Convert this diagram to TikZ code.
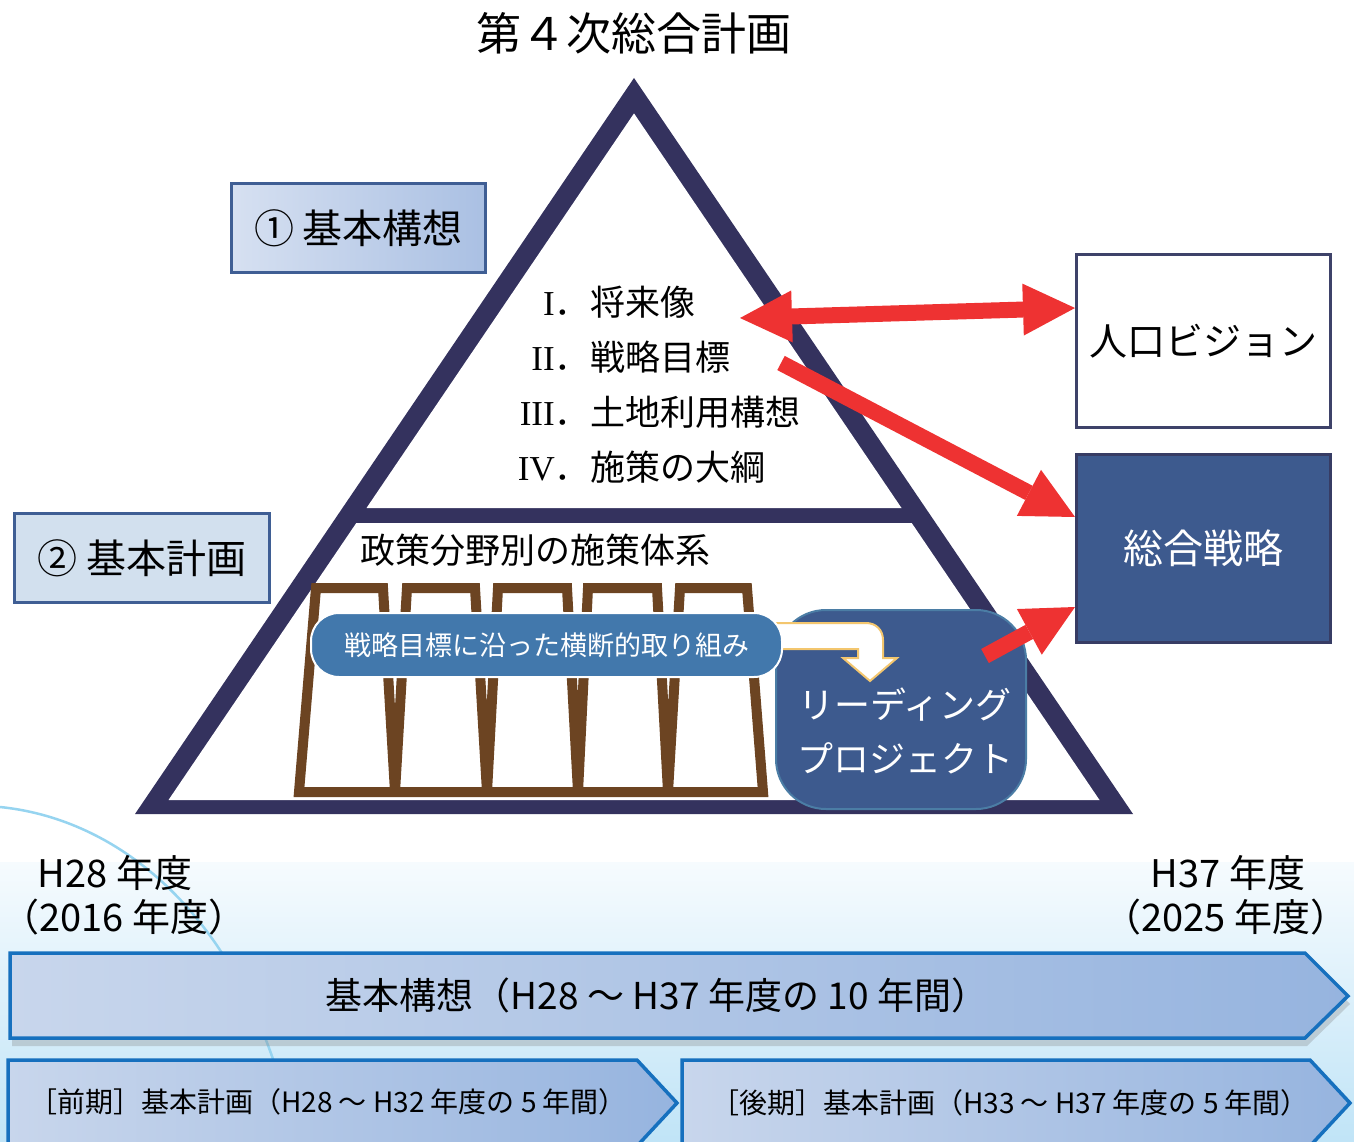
\documentclass[tikz,border=0pt]{standalone}
\usepackage{fontspec}
\usepackage{graphicx}
\setmainfont{Noto Sans CJK JP}
\newfontfamily\serifrm{Liberation Serif}
\usetikzlibrary{arrows.meta,shadows}
\definecolor{navy}{RGB}{52,50,94}
\definecolor{frameA}{RGB}{63,94,148}
\definecolor{boxAleft}{RGB}{214,224,241}
\definecolor{boxAright}{RGB}{170,192,227}
\definecolor{boxBfill}{RGB}{210,224,238}
\definecolor{pvborder}{RGB}{62,66,105}
\definecolor{ssfill}{RGB}{61,90,142}
\definecolor{ssborder}{RGB}{55,60,100}
\definecolor{pillblue}{RGB}{66,120,172}
\definecolor{lpborder}{RGB}{75,125,165}
\definecolor{arrowyellow}{RGB}{243,198,110}
\definecolor{redar}{RGB}{238,50,50}
\definecolor{brownp}{RGB}{108,68,34}
\definecolor{bannerline}{RGB}{22,112,190}
\definecolor{bannerleft}{RGB}{200,214,236}
\definecolor{bannerright}{RGB}{150,180,223}
\definecolor{bgtop}{RGB}{246,251,254}
\definecolor{bgbottom}{RGB}{192,228,247}
\definecolor{arccol}{RGB}{150,212,240}
\newcommand\setfs[2]{\fontsize{#1}{#2}\selectfont}
\tikzset{
  lbl/.style={inner sep=0pt, text=black},
  redarrow/.style={draw=redar, line width=16pt,
    -{Triangle[length=52pt,width=52pt,line width=0pt]}},
  banner/.style={draw=bannerline, line width=3.5pt, left color=bannerleft, right color=bannerright},
  sidebox/.style={line width=3pt, inner sep=0pt},
}
\begin{document}
\begin{tikzpicture}[x=1pt,y=-1pt]
\useasboundingbox (0,0) rectangle (1354,1142);
\clip (0,0) rectangle (1354,1142);
\fill[white] (0,0) rectangle (1354,1142);
% bottom background gradient
\fill[top color=bgtop, bottom color=bgbottom] (0,862) rectangle (1354,1142);
\draw[arccol, line width=2.5pt] (0,807) .. controls (110,818) and (220,900) .. (275,1065);

% title
\node[lbl, font=\setfs{45}{45}] (title) at (634,33) {第４次総合計画};

% pyramid
\fill[navy] (634,78) -- (135,814) -- (1133,814) -- cycle;
\fill[white] (634,113.4) -- (366.5,508) -- (901.5,508) -- cycle;
\fill[white] (356.3,523) -- (911.7,523) -- (1099.5,800) -- (168.5,800) -- cycle;

% left boxes
\node[sidebox, draw=frameA, left color=boxAleft, right color=boxAright,
      minimum width=254pt, minimum height=89pt, font=\setfs{40}{40}] (kihon) at (358.5,228) {① 基本構想};
\node[sidebox, draw=frameA, fill=boxBfill,
      minimum width=255pt, minimum height=89pt, font=\setfs{40}{40}] (keikaku) at (142,558) {② 基本計画};

% right boxes
\node[sidebox, draw=pvborder, fill=white,
      minimum width=254pt, minimum height=173pt, font=\setfs{38}{38}] (pv) at (1203.5,341) {人口ビジョン};
\node[sidebox, draw=ssborder, fill=ssfill, text=white,
      minimum width=254pt, minimum height=188pt, font=\setfs{40}{40}] (ss) at (1203.5,548.5) {総合戦略};

% list in pyramid
\node[lbl, anchor=base east, font=\setfs{35}{35}] (n1) at (590,315) {{\serifrm I}．};
\node[lbl, anchor=base west, font=\setfs{35}{35}] (t1) at (590,315) {将来像};
\node[lbl, anchor=base east, font=\setfs{35}{35}] (n2) at (590,370) {{\serifrm II}．};
\node[lbl, anchor=base west, font=\setfs{35}{35}] (t2) at (590,370) {戦略目標};
\node[lbl, anchor=base east, font=\setfs{35}{35}] (n3) at (590,425) {{\serifrm III}．};
\node[lbl, anchor=base west, font=\setfs{35}{35}] (t3) at (590,425) {土地利用構想};
\node[lbl, anchor=base east, font=\setfs{35}{35}] (n4) at (590,480) {{\serifrm IV}．};
\node[lbl, anchor=base west, font=\setfs{35}{35}] (t4) at (590,480) {施策の大綱};

\node[lbl, font=\setfs{35}{35}] (seisaku) at (535,550) {政策分野別の施策体系};

% pillars
\draw[brownp, line width=10pt, line join=miter, miter limit=3]
  (299,792) -- (316,588) -- (383,588) -- (395,792) -- (407,588) -- (475,588)
  -- (487,792) -- (498,588) -- (567,588) -- (578,792) -- (588,588) -- (657,588)
  -- (668,792) -- (680,588) -- (747,588) -- (763,792) -- cycle;

% leading project
\node[draw=lpborder, line width=2pt, fill=ssfill, rounded corners=50pt,
      minimum width=250pt, minimum height=199pt] (lp) at (901,709.5) {};
\node[text=white, align=center, inner sep=0pt, font=\setfs{36}{54}] (lptext) at (905,731) {リーディング\\プロジェクト};

% curved white arrow
\draw[draw=arrowyellow, fill=white, line width=2pt, line join=miter]
  (770,623) -- (866,623) .. controls (876,623) and (883,630) .. (883,640)
  -- (883,658) -- (897,658) -- (870,681) -- (843,658) -- (858,658)
  -- (858,649) -- (770,649) -- cycle;

% pill
\node[draw=white, line width=2pt, fill=pillblue, rounded corners=28pt,
      minimum width=471pt, minimum height=64pt, text=white, inner sep=0pt,
      font=\setfs{27}{27}] (pill) at (546.5,645) {戦略目標に沿った横断的取り組み};

% red arrows
\coordinate (r1s) at (740,318);
\coordinate (r2s) at (781,363);
\draw[redarrow, {Triangle[length=52pt,width=52pt,line width=0pt]}-{Triangle[length=52pt,width=52pt,line width=0pt]}]
  (r1s) -- ([yshift=33pt]pv.west);
\draw[redarrow] (r2s) -- ([yshift=31.5pt]ss.west);
\draw[redarrow] ([xshift=84pt,yshift=53.5pt]lp.center) -- ([yshift=-58.5pt]ss.west);

% years
\node[lbl, font=\setfs{38}{38}] (h28) at (115,873) {H28 年度};
\node[lbl, font=\setfs{38}{38}] (y2016) at (124,917) {（2016 年度）};
\node[lbl, font=\setfs{38}{38}] (h37) at (1228,873) {H37 年度};
\node[lbl, font=\setfs{38}{38}] (y2025) at (1226,917) {（2025 年度）};

% banners
\path[banner, drop shadow={shadow xshift=2pt, shadow yshift=-8pt, opacity=0.3}]
  (10,953) -- (1305,953) -- (1348,996) -- (1305,1038) -- (10,1038) -- cycle;
\node[lbl, font=\setfs{37}{37}] (b1t) at (657,995) {基本構想（H28 ～ H37 年度の 10 年間）};
\path[banner] (8,1060) -- (637,1060) -- (677,1103) -- (637,1146) -- (8,1146) -- cycle;
\node[lbl, font=\setfs{28}{28}] (b2t) at (328,1102) {［前期］基本計画（H28 ～ H32 年度の 5 年間）};
\path[banner] (682,1060) -- (1310,1060) -- (1350,1103) -- (1310,1146) -- (682,1146) -- cycle;
\node[lbl, font=\setfs{28}{28}] (b3t) at (1010,1103) {［後期］基本計画（H33 ～ H37 年度の 5 年間）};
\end{tikzpicture}
\end{document}
